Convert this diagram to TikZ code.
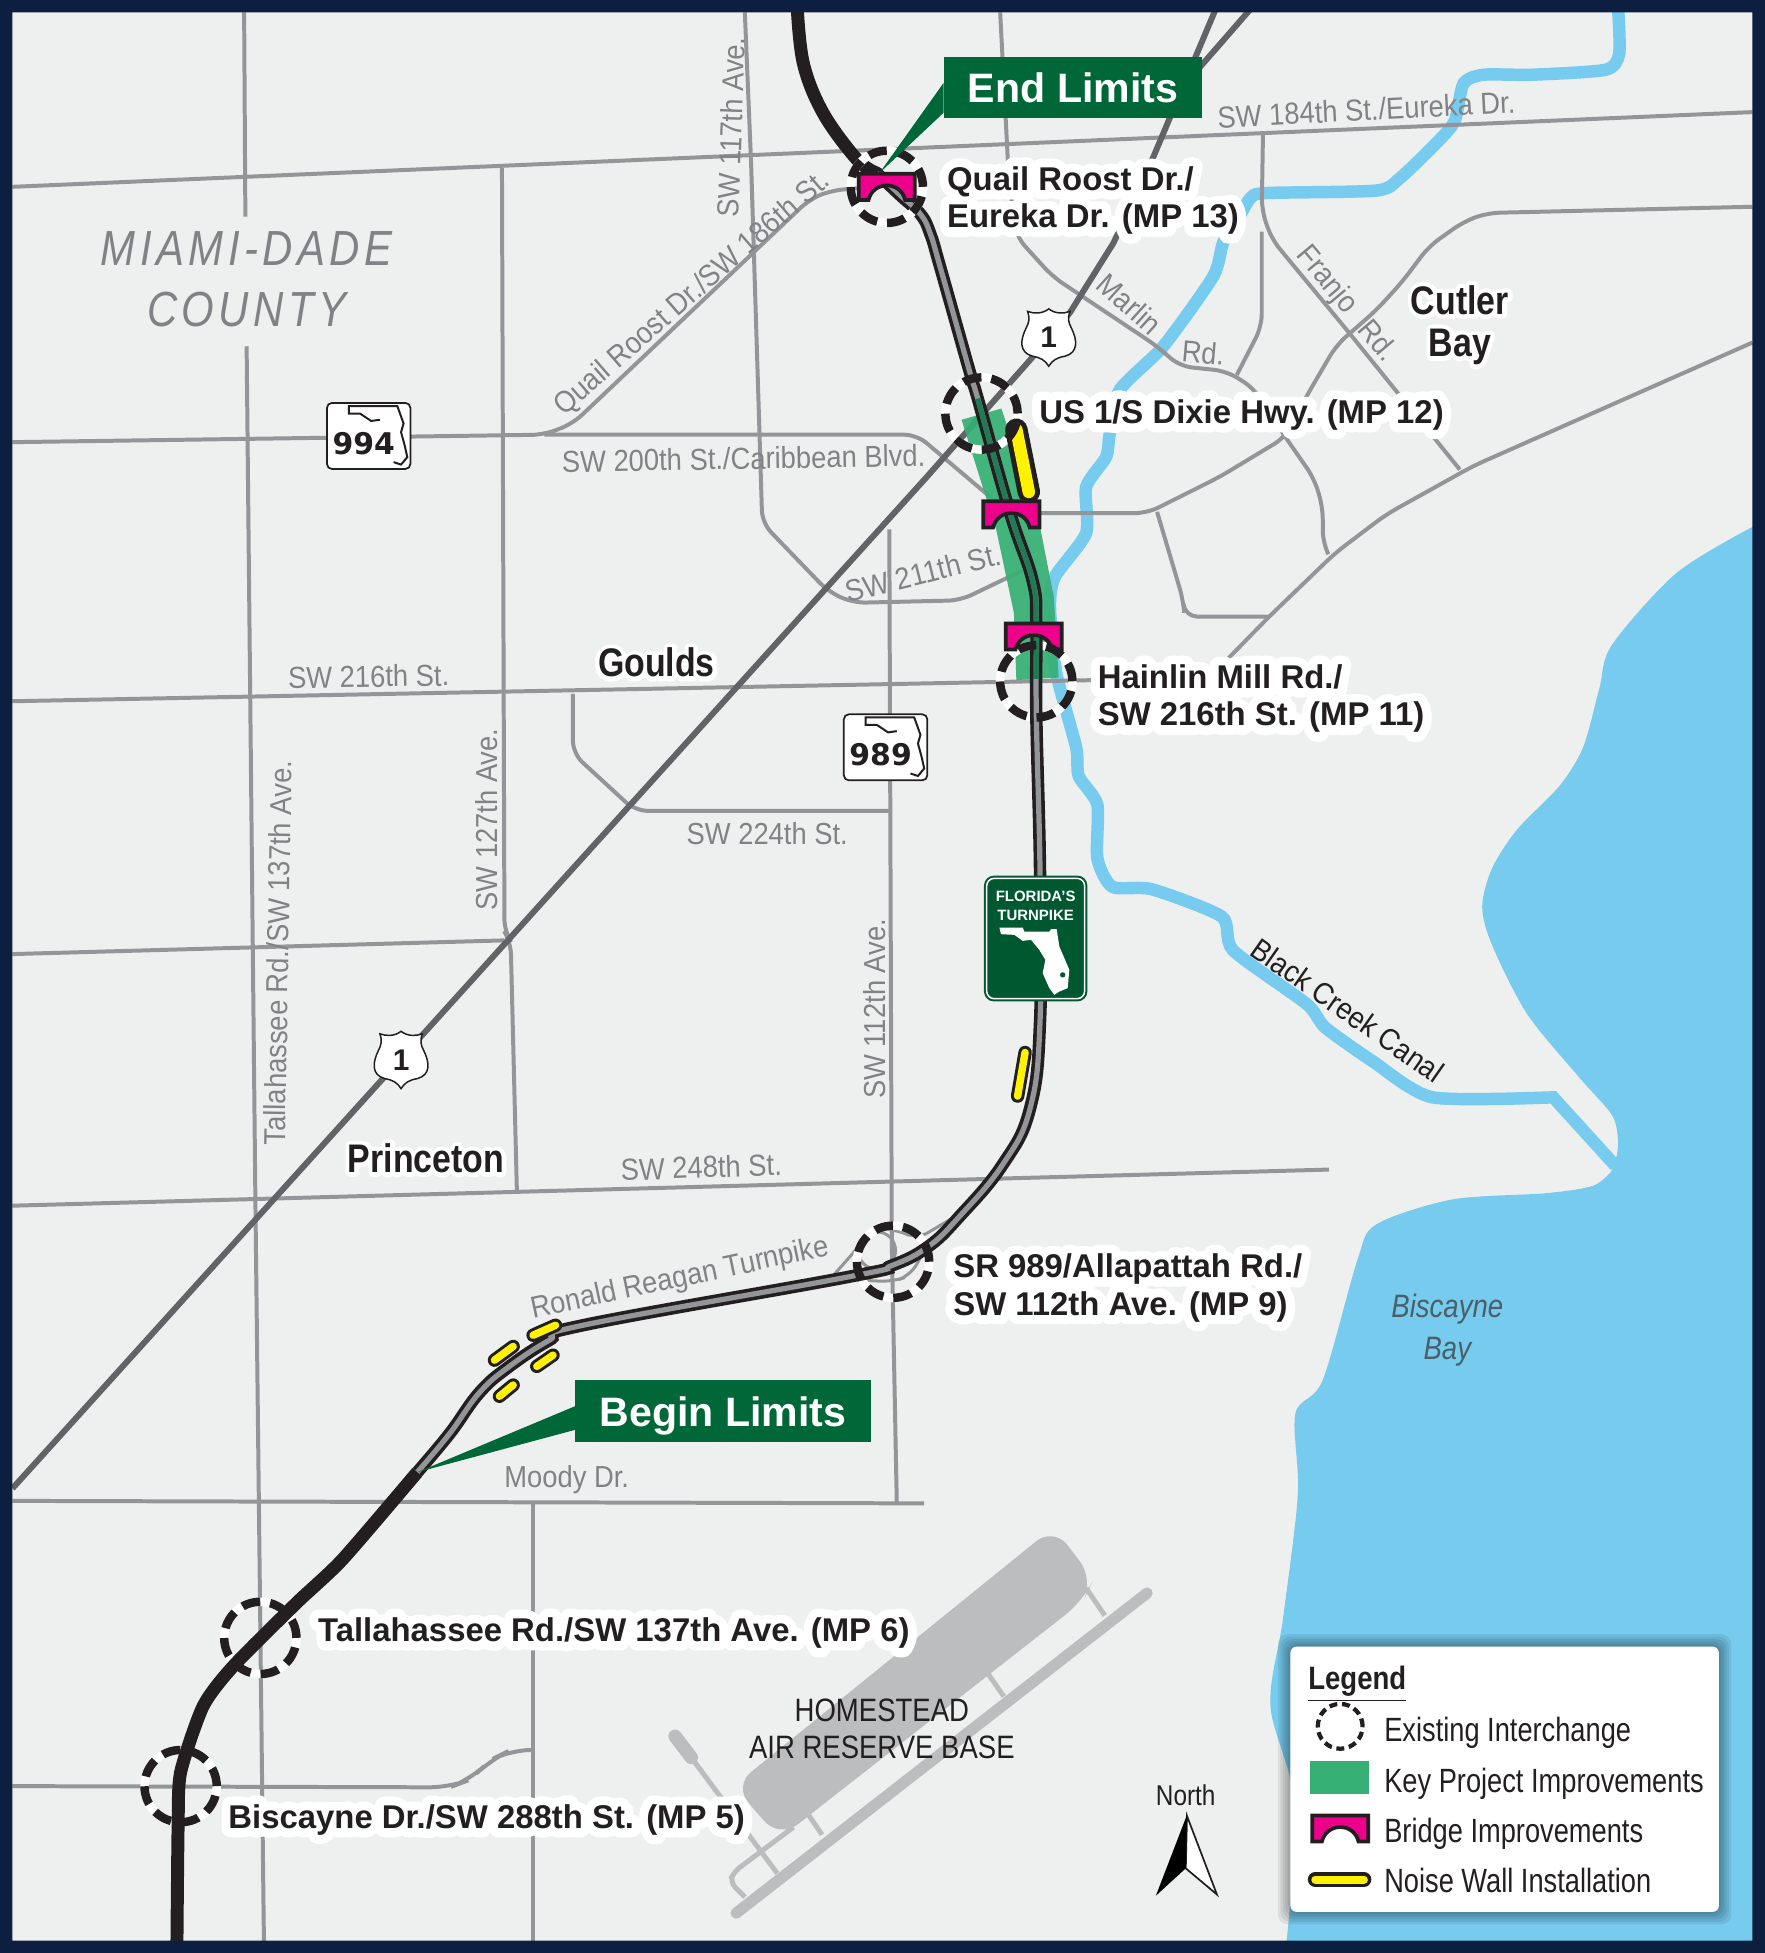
\documentclass[tikz,border=0pt]{standalone}
\usepackage{fontspec}
\setmainfont{Liberation Sans}
\newfontfamily\narrowfont[FakeStretch=.85]{Liberation Sans}
\newfontfamily\roadfont[FakeStretch=.9]{Liberation Sans}
\newfontfamily\legendfont[FakeStretch=.81]{Liberation Sans}
\newfontfamily\countyfont[FakeStretch=.85,LetterSpace=9]{Liberation Sans}
\newfontfamily\halofont[BoldFeatures={FakeBold=55}]{Liberation Sans}
\newfontfamily\placehalo[FakeStretch=.85,BoldFeatures={FakeBold=22}]{Liberation Sans}
\newfontfamily\numberfont{DejaVu Sans}
\definecolor{mapbg}{HTML}{EEF0EF}
\definecolor{navy}{HTML}{0C1F40}
\definecolor{water}{HTML}{76CBEE}
\definecolor{roadgray}{HTML}{939598}
\definecolor{usgray}{HTML}{626366}
\definecolor{labelgray}{HTML}{808285}
\definecolor{bandgreen}{HTML}{36AF74}
\definecolor{coregreen}{HTML}{1F7A55}
\definecolor{bridgepink}{HTML}{EC008C}
\definecolor{wallyellow}{HTML}{FFF200}
\definecolor{limitgreen}{HTML}{006838}
\definecolor{airgray}{HTML}{BBBDBF}
\definecolor{inkblack}{HTML}{231F20}
\tikzset{
  road/.style={draw=roadgray,line width=1.6pt,rounded corners=5pt},
  canal/.style={draw=water,line width=5pt},
  pike/.style={draw=inkblack,line width=5.2pt},
  pikecase/.style={draw=inkblack,line width=5pt,postaction={draw=roadgray,line width=2.1pt}},
  ring/.style={circle,draw=inkblack,line width=3.4pt,minimum size=29pt,inner sep=0pt,dash pattern=on 7.4pt off 4pt},
  ringback/.style={circle,draw=white,line width=3.4pt,minimum size=29pt,inner sep=0pt},
  wall/.style={draw=inkblack,line width=9pt,line cap=round,postaction={draw=wallyellow,line width=5pt}},
  smallwall/.style={draw=inkblack,line width=5.4pt,line cap=round,postaction={draw=wallyellow,line width=3pt}},
  roadlabel/.style={font=\roadfont\fontsize{12.2}{14}\selectfont,text=labelgray,inner sep=0pt},
  stoptext/.style={font=\bfseries\fontsize{13.2}{15}\selectfont,text=inkblack,align=left,anchor=west,inner sep=0pt},
  stophalo/.style={font=\halofont\bfseries\fontsize{13.2}{15}\selectfont,text=white,align=left,anchor=west,inner sep=0pt,line join=round},
  placetext/.style={font=\narrowfont\bfseries\fontsize{16}{17}\selectfont,text=inkblack,align=center,inner sep=0pt},
  placehalotext/.style={font=\placehalo\bfseries\fontsize{16}{17}\selectfont,text=white,align=center,inner sep=0pt,line join=round},
  limitbox/.style={fill=limitgreen,text=white,font=\bfseries\fontsize{16.5}{18}\selectfont,inner sep=0pt,text depth=0pt},
  legendtext/.style={font=\legendfont\fontsize{13.5}{15}\selectfont,text=inkblack,anchor=west,inner sep=0pt},
  bridge/.pic={
    \draw[fill=bridgepink,draw=inkblack,line width=1.5pt] (-22.5,-10.5) -- (22.5,-10.5) -- (22.5,10.5) -- (14.7,10.5)
      .. controls (11,-5) and (-11,-5) .. (-14.7,10.5) -- (-22.5,10.5) -- cycle ;
  },
  usshield/.pic={
    \draw[fill=white,draw=inkblack,line width=.6pt] (0,-23) .. controls (-5,-19) and (-12,-19) .. (-17,-21)
      .. controls (-15,-15) and (-16,-12) .. (-18,-8) .. controls (-23,2) and (-24,12) .. (-13,15)
      .. controls (-7,16) and (-3,18) .. (0,23) .. controls (3,18) and (7,16) .. (13,15)
      .. controls (24,12) and (23,2) .. (18,-8) .. controls (16,-12) and (15,-15) .. (17,-21)
      .. controls (12,-19) and (5,-19) .. (0,-23) -- cycle ;
    \node[font=\bfseries\fontsize{12}{12}\selectfont,inkblack] (#1) at (0,0) {1} ;
  },
  stateshield/.pic={
    \draw[fill=white,draw=inkblack,line width=.7pt,rounded corners=2pt] (-33.5,-26.5) rectangle (33.5,26.5) ;
    \draw[inkblack,line width=.8pt] (20,21) -- (26,23) -- (31,17) -- (29,8) -- (26,-3) -- (28,-10) -- (23,-24)
      -- (-16,-24) -- (-16,-18) -- (-7,-18) -- (2,-12) -- (9,-13) ;
    \node[font=\numberfont\bfseries\fontsize{12}{12}\selectfont,inkblack,inner sep=0pt] (#1) at (-4,6) {#1} ;
  },
}
\newcommand{\stoplabel}[3]{%
  \node[stophalo] at #2 {#3} ;
  \node[stoptext] (#1) at #2 {#3} ;
}
\newcommand{\placelabel}[3]{%
  \node[placehalotext] at #2 {#3} ;
  \node[placetext] (#1) at #2 {#3} ;
}
\begin{document}
\begin{tikzpicture}[x=.5pt,y=-.5pt]
  \useasboundingbox (0,0) rectangle (1417,1568) ;
  \fill[mapbg] (0,0) rectangle (1417,1568) ;
  % water
  \fill[water] plot[smooth,tension=.5] coordinates {(1407,423) (1346,460) (1294,518) (1284,553) (1271,600) (1252,631)
    (1218,666) (1198,697) (1190,728) (1198,759) (1226,814) (1267,864) (1294,895) (1299,915) (1298,928)}
    -- plot[smooth,tension=.5] coordinates {(1294,940) (1279,952) (1241,958) (1166,963) (1105,983) (1090,1011) (1062,1108)
    (1040,1135) (1042,1200) (1030,1300) (1020,1370) (1040,1450) (1032,1568)} -- (1417,1568) -- (1417,423) -- cycle ;
  \draw[canal] plot[smooth,tension=.4] coordinates {(1299,5) (1300,43) (1289,56) (1230,60) (1191,60) (1175,67) (1168,97)
    (1155,113) (1124,143) (1105,153) (1016,155) (1004,159) (996,172) (982,195) (974,222) (934,278) (899,313) (891,348)
    (888,367) (872,391) (872,428) (847,463) (843,487) (848,540) (864,600) (866,623) (881,646) (881,689) (893,712)
    (925,714) (981,736) (990,763) (1049,806) (1064,825) (1102,852) (1150,881) (1247,881)} -- (1297,936) ;
  % roads
  \draw[road] (10,150) -- (1407,90) ;
  \draw[road] (598,10) -- (603,130) -- (612,420) -- (665,475) -- (685,484) -- (771,482) -- (821,458) ;
  \draw[road] (10,355) -- (437,349) -- (460,340) -- (650,160) -- (667,153) -- (735,147) ;
  \draw[road] (437,349) -- (736,349) -- (795,399) ;
  \draw[road] (803,10) -- (810,145) -- (816,190) -- (845,222) -- (929,278) -- (947,294) -- (985,298) -- (1007,312)
    -- (1032,351) -- (1055,384) -- (1062,407) -- (1062,436) -- (1066,444) ;
  \draw[road] (1014,107) -- (1013,169) -- (1021,192) -- (1083,267) -- (1172,377) ;
  \draw[road] (1013,186) -- (1013,262) -- (993,301) ;
  \draw[road] (1407,166) -- (1194,171) -- (1175,178) -- (1147,198) -- (1126,226) -- (1105,249) -- (1073,277) -- (1049,318)
    -- (1032,351) -- (979,383) -- (921,412) -- (835,412) ;
  \draw[road] (929,411) -- (950,482) -- (951,495) -- (1019,495) ;
  \draw[road] (1407,275) -- (1183,374) -- (1113,413) -- (1072,444) -- (1019,495) -- (975,540) ;
  \draw[road] (10,563) -- (880,546) ;
  \draw[road] (196,10) -- (197,174) ;
  \draw[road] (198,278) -- (205,960) -- (212,1568) ;
  \draw[road] (403,135) -- (405,748) -- (410,756) -- (415,957) ;
  \draw[road] (10,766) -- (405,755) ;
  \draw[road] (460,557) -- (460,605) -- (510,651) -- (714,651) ;
  \draw[road] (714,425) -- (716,1000) -- (720,1207) ;
  \draw[road] (10,968) -- (1067,939) ;
  \draw[road] (10,1205) -- (742,1207) ;
  \draw[road] (428,1207) -- (428,1568) ;
  \draw[road,rounded corners=8pt] (10,1434) -- (361,1435) -- (377,1429) -- (394,1413) -- (410,1405) -- (428,1405) ;
  \draw[road,line width=1.2pt] (704,1004) circle (15) ;
  \draw[road,line width=1.2pt] (669,1024) -- (685,1006) -- (701,987) -- (720,987) -- (736,995) -- (763,979) ;
  \draw[road,line width=1.2pt] (693,1028) -- (717,1029) -- (731,1024) -- (741,1006) ;
  \draw[usgray,line width=2.4pt] (10,1195) -- (744,383) -- (827,289) -- (859,251) -- (894,195) -- (926,126) -- (977,5) ;
  \draw[usgray,line width=2.4pt] (945,75) -- (1006,5) ;
  % air reserve base
  \fill[airgray,rounded corners=9pt] (846,1226) -- (878,1268) -- (870,1285) -- (626,1476) -- (589,1434) -- cycle ;
  \draw[airgray,line width=4.5pt,line cap=round] (921,1279) -- (591,1536) ;
  \draw[airgray,line width=2pt] (872,1275) -- (887,1297) ;
  \draw[airgray,line width=2pt] (792,1342) -- (806,1362) ;
  \draw[airgray,line width=2pt] (647,1454) -- (660,1473) ;
  \draw[airgray,line width=2pt,rounded corners=3pt] (637,1467) -- (589,1503) -- (586,1511) -- (598,1523) ;
  \draw[airgray,line width=5.4pt,line cap=round] (542,1394) -- (555,1411) ;
  \draw[airgray,line width=2pt] (555,1411) -- (624,1504) ;
  % project band and turnpike
  \fill[bandgreen,opacity=.92] (772,337) -- (804,328) -- (835,423) -- (846,479) -- (850,544) -- (816,546) -- (814,492) -- (800,426) -- cycle ;
  \foreach \ringname/\ringpos in {usone/{(788,332)},hainlin/{(832,547)},allapattah/{(717,1013)},tallahassee/{(209,1315)},biscayne/{(145,1434)}} {
    \node[ringback] (\ringname back) at \ringpos {} ;
  }
  \draw[pike,line cap=round] plot[smooth,tension=.6] coordinates {(640,5) (645,51) (661,91) (688,128) (704,139)} ;
  \draw[pikecase] plot[smooth,tension=.7] coordinates {(704,139) (722,156) (739,172) (747,188) (755,215) (779,300) (785,320) (811,412)
    (829,466) (832,500) (832,573) (835,700) (835,820) (827,890) (805,935) (770,977) (745,1001) (716,1016) (682,1025) (468,1064)
    (441,1076) (409,1097) (385,1118) (361,1151) (335,1182)} ;
  \draw[coregreen,line width=2.1pt] plot[smooth,tension=.7] coordinates {(785,320) (811,412) (829,466) (832,500) (832,545)} ;
  \draw[pike] plot[smooth,tension=.4] coordinates {(335,1182) (275,1252) (238,1287) (187,1338) (163,1370) (145,1423) (143,1466) (142,1568)} ;
  \node[ringback] (quailback) at (712,150) {} ;
  \pic at (712,150) {bridge} ;
  \pic at (812,413) {bridge} ;
  \pic at (830,511) {bridge} ;
  \draw[wall] (816,345) -- (826,395) ;
  \draw[smallwall] (823,845) -- (817,880) ;
  \draw[smallwall] (412,1081) -- (397,1092) ;
  \draw[smallwall] (446,1064) -- (428,1072) ;
  \draw[smallwall] (444,1088) -- (431,1097) ;
  \draw[smallwall] (412,1112) -- (401,1121) ;
  \node[ring] (quailring) at (712,150) {} ;
  \node[ring] (usonering) at (788,332) {} ;
  \node[ring] (hainlinring) at (832,547) {} ;
  \node[ring] (allapattahring) at (717,1013) {} ;
  \node[ring] (tallahasseering) at (209,1315) {} ;
  \node[ring] (biscaynering) at (145,1434) {} ;
  % road and water names
  \node[roadlabel,rotate=3] (eureka) at (1097,88) {SW 184th St./Eureka Dr.} ;
  \node[roadlabel,rotate=88] (sw117) at (587,102) {SW 117th Ave.} ;
  \node[roadlabel,rotate=41] (quailname) at (556,236) {Quail Roost Dr./SW 186th St.} ;
  \node[roadlabel,rotate=-42] (marlin) at (907,244) {Marlin} ;
  \node[roadlabel,rotate=-5] (marlinrd) at (966,283) {Rd.} ;
  \node[roadlabel,rotate=-50] (franjo) at (1065,225) {Franjo} ;
  \node[roadlabel,rotate=-50] (franjord) at (1107,273) {Rd.} ;
  \node[roadlabel,rotate=1] (caribbean) at (597,368) {SW 200th St./Caribbean Blvd.} ;
  \node[roadlabel,rotate=14] (sw211) at (741,460) {SW 211th St.} ;
  \node[roadlabel,rotate=1] (sw216) at (296,543) {SW 216th St.} ;
  \node[roadlabel] (sw224) at (616,669) {SW 224th St.} ;
  \node[roadlabel,rotate=90] (sw127) at (391,658) {SW 127th Ave.} ;
  \node[roadlabel,rotate=89] (sw137) at (223,765) {Tallahassee Rd./SW 137th Ave.} ;
  \node[roadlabel,rotate=90] (sw112) at (702,810) {SW 112th Ave.} ;
  \node[roadlabel,rotate=2] (sw248) at (563,937) {SW 248th St.} ;
  \node[roadlabel,rotate=12] (reagan) at (546,1027) {Ronald Reagan Turnpike} ;
  \node[roadlabel] (moody) at (455,1188) {Moody Dr.} ;
  \node[roadlabel,text=inkblack,rotate=-35] (blackcreek) at (1082,811) {Black Creek Canal} ;
  \node[font=\narrowfont\itshape\fontsize{13}{17}\selectfont,text=labelgray!60!water!60!black,align=center,inner sep=0pt] (bay) at (1162,1068) {Biscayne\\Bay} ;
  \node[font=\countyfont\itshape\fontsize{19.8}{24.5}\selectfont,text=labelgray,align=center,inner sep=0pt] (county) at (198,224) {MIAMI-DADE\\COUNTY} ;
  \node[font=\narrowfont\fontsize{13}{15}\selectfont,text=inkblack,align=center,inner sep=0pt] (homestead) at (708,1388) {HOMESTEAD\\AIR RESERVE BASE} ;
  \placelabel{goulds}{(527,532)}{Goulds}
  \placelabel{princeton}{(342,930)}{Princeton}
  \placelabel{cutler}{(1172,261)}{Cutler\\Bay}
  % shields and sign
  \pic at (842,271) {usshield=usa} ;
  \pic at (322,851) {usshield=usb} ;
  \pic at (296,350) {stateshield=994} ;
  \pic at (711,600) {stateshield=989} ;
  \node[fill=limitgreen!85!black,rounded corners=4pt,minimum width=41.5pt,minimum height=50.5pt,inner sep=0pt] (pikesign) at (831.5,753.5) {} ;
  \draw[white,line width=.6pt,rounded corners=3pt] ([shift={(1.3pt,-1.3pt)}]pikesign.north west) rectangle ([shift={(-1.3pt,1.3pt)}]pikesign.south east) ;
  \node[font=\bfseries\fontsize{6}{6}\selectfont,white,inner sep=0pt] (pikeline) at (831.5,719.5) {FLORIDA'S} ;
  \node[font=\bfseries\fontsize{6}{6}\selectfont,white,inner sep=0pt] (pikelinb) at (831.5,735) {TURNPIKE} ;
  \begin{scope}[shift={(831.5,753.5)},x=.1338pt,y=-.1338pt]
    \fill[white] (-109,-33) -- (-39,-33) -- (-34,-21) -- (41,-21) -- (46,-28) -- (63,-28) -- (71,24) -- (101,94) -- (96,149)
      -- (71,159) -- (56,169) -- (41,149) -- (21,104) -- (29,64) -- (11,34) -- (-14,4) -- (-39,7) -- (-64,-11) -- (-104,-13) -- cycle ;
    \fill[limitgreen!85!black] (81,109) circle (8) ;
  \end{scope}
  % callouts
  \coordinate (endtip) at (706,139) ;
  \coordinate (begintip) at (335,1182) ;
  \node[limitbox,minimum width=103.5pt,minimum height=24.5pt] (endbox) at (861.5,70.5) {End Limits} ;
  \fill[limitgreen] (endtip) -- ([yshift=2pt]endbox.west) -- ([yshift=-10pt]endbox.west) -- cycle ;
  \node[limitbox,minimum width=118.5pt,minimum height=25pt] (beginbox) at (580.5,1133) {Begin Limits} ;
  \fill[limitgreen] (begintip) -- ([yshift=2pt]beginbox.west) -- ([yshift=-7.5pt]beginbox.west) -- cycle ;
  % interchange names
  \stoplabel{quaillabel}{(760,161)}{Quail Roost Dr./\\Eureka Dr. (MP 13)}
  \stoplabel{usonelabel}{(834,333)}{US 1/S Dixie Hwy. (MP 12)}
  \stoplabel{hainlinlabel}{(881,561)}{Hainlin Mill Rd./\\SW 216th St. (MP 11)}
  \stoplabel{allapattahlabel}{(765,1034)}{SR 989/Allapattah Rd./\\SW 112th Ave. (MP 9)}
  \stoplabel{tallahasseelabel}{(255,1311)}{Tallahassee Rd./SW 137th Ave. (MP 6)}
  \stoplabel{biscaynelabel}{(183,1461)}{Biscayne Dr./SW 288th St. (MP 5)}
  % north arrow
  \node[font=\narrowfont\fontsize{11.5}{12}\selectfont,text=inkblack,inner sep=0pt] (north) at (952,1441) {North} ;
  \draw[inkblack,fill=white,line width=.7pt] (953,1458) -- (977,1521) -- (952,1500) -- cycle ;
  \fill[black] (953,1457) -- (928,1522) -- (952,1500) -- cycle ;
  % legend
  \foreach \s in {10,8,6,4,2} {
    \fill[black,opacity=.07,rounded corners=4pt] ({1036-\s},{1322-\s}) rectangle ({1380+\s},{1535+\s}) ;
  }
  \fill[white,rounded corners=2.5pt] (1036,1322) rectangle (1380,1535) ;
  \node[font=\narrowfont\bfseries\fontsize{13}{15}\selectfont,text=inkblack,anchor=west,inner sep=0pt] (legendtitle) at (1050,1352) {\underline{Legend}} ;
  \node[circle,draw=inkblack,line width=1.7pt,minimum size=18pt,inner sep=0pt,dash pattern=on 3.2pt off 1.9pt] (legendring) at (1076,1386) {} ;
  \node[legendtext] (legenda) at (1111,1391) {Existing Interchange} ;
  \fill[bandgreen] (1052,1414) rectangle (1099,1440) ;
  \node[legendtext] (legendb) at (1111,1432) {Key Project Improvements} ;
  \pic at (1076,1468) {bridge} ;
  \node[legendtext] (legendc) at (1111,1472) {Bridge Improvements} ;
  \draw[inkblack,line width=6pt,line cap=round] (1056,1509) -- (1095,1509) ;
  \draw[wallyellow,line width=3.2pt,line cap=round] (1056,1509) -- (1095,1509) ;
  \node[legendtext] (legendd) at (1111,1510) {Noise Wall Installation} ;
  % frame
  \fill[navy,even odd rule] (0,0) rectangle (1417,1568) (10,10) rectangle (1407,1558) ;
\end{tikzpicture}
\end{document}
